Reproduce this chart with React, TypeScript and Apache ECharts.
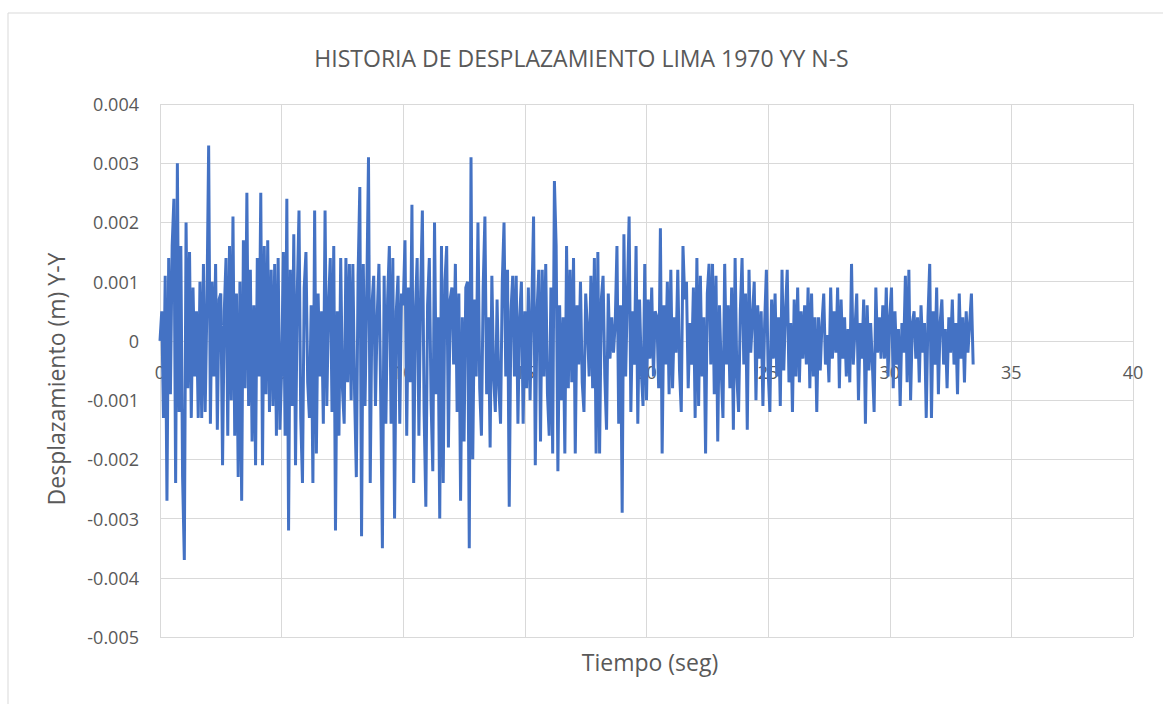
import React, { useEffect, useRef } from "react";
import * as echarts from "echarts";

// Sampling step of the record (14 samples per second), seconds
const dt = 1 / 14;

// Displacement Y-Y (m), read row by row, one row per second of record
const disp: number[] = [
  0, 0.0005, -0.0013, 0.0011, -0.0027, 0.0014, -0.0009, 0.0016, 0.0024, -0.0024, 0.0030, -0.0012, 0.0016, -0.0023,
  -0.0037, 0.0020, -0.0008, 0.0015, -0.0013, 0.0009, -0.0006, 0.0005, -0.0013, 0.0010, -0.0013, 0.0013, -0.0012, 0.0006,
  0.0033, -0.0014, 0.0010, -0.0006, 0.0013, -0.0015, 0.0007, 0.0008, -0.0021, 0.0005, 0.0014, -0.0016, 0.0016, -0.0010,
  0.0021, -0.0016, 0.0008, -0.0023, 0.0010, -0.0027, 0.0017, -0.0008, 0.0025, -0.0011, 0.0012, -0.0017, 0.0006, -0.0021,
  0.0014, -0.0006, 0.0025, -0.0021, 0.0016, -0.0009, 0.0017, -0.0012, 0.0012, -0.0011, 0.0013, -0.0016, 0.0014, -0.0015,
  -0.0005, 0.0015, -0.0016, 0.0024, -0.0032, 0.0012, -0.0011, 0.0018, -0.0021, 0.0008, 0.0022, -0.0013, -0.0024, 0.0009,
  0.0015, -0.0007, -0.0013, 0.0006, -0.0024, 0.0022, -0.0019, 0.0008, -0.0006, 0.0005, -0.0014, 0.0022, -0.0011, 0.0006,
  0.0014, -0.0012, 0.0016, -0.0032, 0.0005, -0.0016, 0.0014, -0.0008, -0.0014, 0.0014, -0.0007, 0.0013, -0.0010, 0.0013,
  -0.0009, -0.0023, 0.0011, 0.0026, -0.0033, 0.0013, -0.0011, 0.0008, 0.0031, -0.0024, 0.0006, 0.0011, -0.0011, 0.0004,
  0.0013, -0.0009, -0.0035, 0.0011, -0.0014, 0.0007, 0.0016, -0.0014, 0.0014, -0.0030, 0.0005, 0.0011, -0.0014, 0.0008,
  0.0006, 0.0017, -0.0016, 0.0009, -0.0007, 0.0023, -0.0024, 0.0005, 0.0014, -0.0016, 0.0008, 0.0022, -0.0012, -0.0028,
  0.0006, 0.0014, -0.0010, -0.0022, 0.0020, -0.0009, 0.0004, -0.0030, 0.0016, -0.0024, 0.0010, 0.0016, -0.0018, 0.0007,
  0.0009, -0.0004, 0.0013, -0.0012, 0.0008, -0.0027, 0.0004, -0.0017, 0.0009, 0.0010, -0.0035, 0.0031, -0.0020, 0.0007,
  -0.0006, 0.0020, -0.0008, -0.0016, 0.0009, 0.0021, -0.0009, 0.0004, -0.0018, 0.0011, -0.0006, -0.0012, 0.0007, -0.0008,
  -0.0014, 0.0010, 0.0020, -0.0006, 0.0012, -0.0028, 0.0005, 0.0011, -0.0006, 0.0011, -0.0014, 0.0004, 0.0010, -0.0014,
  0.0005, -0.0008, 0.0009, -0.0010, 0.0006, 0.0021, -0.0021, 0.0005, 0.0012, -0.0017, 0.0012, -0.0006, 0.0013, -0.0009,
  -0.0016, 0.0009, -0.0019, 0.0027, 0.0016, -0.0022, 0.0006, -0.0010, 0.0004, -0.0019, 0.0016, -0.0008, 0.0012, -0.0007,
  0.0014, -0.0019, 0.0006, -0.0004, 0.0010, -0.0007, -0.0012, 0.0008, 0.0002, -0.0006, 0.0011, -0.0008, 0.0014, -0.0019,
  0.0015, -0.0019, 0.0007, 0.0011, -0.0006, -0.0015, 0.0008, -0.0003, 0.0004, -0.0002, 0.0003, 0.0016, -0.0014, 0.0006,
  -0.0029, 0.0018, -0.0006, 0.0008, 0.0021, -0.0012, 0.0005, -0.0004, 0.0016, -0.0014, 0.0007, -0.0005, -0.0011, 0.0013,
  -0.0010, 0.0007, -0.0003, 0.0009, -0.0006, 0.0005, 0.0004, -0.0008, 0.0019, -0.0019, 0.0006, -0.0004, 0.0010, -0.0009,
  0.0012, -0.0008, 0.0004, -0.0002, 0.0012, -0.0005, -0.0012, 0.0016, 0.0007, 0.0010, -0.0008, 0.0003, -0.0004, 0.0009,
  -0.0013, 0.0014, -0.0011, 0.0011, -0.0006, 0.0004, -0.0019, 0.0008, 0.0013, -0.0004, 0.0013, -0.0009, 0.0011, -0.0017,
  0.0006, -0.0005, -0.0013, 0.0013, -0.0004, 0.0006, -0.0008, 0.0009, -0.0015, 0.0014, -0.0006, -0.0012, 0.0005, 0.0014,
  -0.0004, 0.0008, -0.0015, 0.0012, -0.0002, 0.0004, 0.0010, -0.0010, 0.0006, -0.0003, 0.0005, -0.0011, 0.0003, 0.0012,
  -0.0005, -0.0012, 0.0007, -0.0003, 0.0008, -0.0006, 0.0004, -0.0011, 0.0012, -0.0005, 0.0005, 0.0012, -0.0007, 0.0003,
  -0.0012, 0.0007, -0.0006, 0.0009, -0.0007, 0.0005, -0.0003, 0.0006, -0.0004, 0.0009, -0.0008, 0.0008, -0.0006, 0.0004,
  -0.0012, 0.0004, -0.0005, 0.0003, 0.0008, -0.0004, 0.0001, -0.0007, 0.0009, -0.0003, 0.0005, -0.0002, 0.0009, -0.0008,
  0.0007, -0.0003, 0.0004, -0.0006, 0.0002, -0.0007, 0.0013, -0.0004, 0.0002, 0.0008, -0.0010, 0.0003, -0.0003, 0.0007,
  -0.0014, 0.0006, -0.0005, 0.0003, -0.0004, -0.0012, 0.0009, -0.0002, 0.0004, -0.0003, 0.0006, -0.0003, 0.0009, -0.0006,
  0.0004, 0.0009, -0.0008, 0.0005, -0.0004, 0.0002, -0.0011, 0.0003, -0.0002, 0.0011, -0.0007, 0.0012, -0.0010, 0.0003,
  0.0005, -0.0003, 0.0004, -0.0007, 0.0006, -0.0002, 0.0003, -0.0013, 0.0004, 0.0013, -0.0013, 0.0005, -0.0004, 0.0009,
  -0.0009, 0.0003, 0.0007, -0.0004, 0.0002, -0.0008, 0.0004, -0.0002, 0.0007, -0.0004, 0.0003, -0.0009, 0.0008, -0.0003,
  0.0004, -0.0007, 0.0005, -0.0002, 0.0003, 0.0008, -0.0004,
];

const xTicks = [0, 5, 10, 15, 20, 25, 30, 35, 40];
const yTicks = [-0.005, -0.004, -0.003, -0.002, -0.001, 0, 0.001, 0.002, 0.003, 0.004];

const titleText = "HISTORIA DE DESPLAZAMIENTO LIMA 1970 YY N-S";
const xName = "Tiempo (seg)";
const yName = "Desplazamiento (m) Y-Y";

const FONT = "'Open Sans', sans-serif";
const TXT = "#595959";
const GRID = "#d9d9d9";

export default function App() {
  const ref = useRef<HTMLDivElement>(null);
  useEffect(() => {
    if (!ref.current) return;
    const chart = echarts.init(ref.current, undefined, { renderer: "svg" });
    const points = disp.map((v, i) => [i * dt, v]);
    chart.setOption({
      animation: false,
      backgroundColor: "#ffffff",
      textStyle: { fontFamily: FONT },
      title: {
        text: titleText,
        left: "center",
        top: 41,
        textStyle: { fontFamily: FONT, fontSize: 23, fontWeight: "normal", color: TXT },
      },
      graphic: [
        {
          type: "rect",
          shape: { x: 8, y: 13, width: 1300, height: 900 },
          style: { fill: "none", stroke: GRID, lineWidth: 1 },
          silent: true,
        },
        {
          type: "text",
          x: 650,
          y: 662,
          style: {
            text: xName,
            fontFamily: FONT,
            fontSize: 23,
            fill: TXT,
            align: "center",
            verticalAlign: "middle",
          },
          silent: true,
        },
        {
          type: "text",
          x: 56,
          y: 379,
          rotation: Math.PI / 2,
          style: {
            text: yName,
            fontFamily: FONT,
            fontSize: 23,
            fill: TXT,
            align: "center",
            verticalAlign: "middle",
          },
          silent: true,
        },
      ],
      grid: { left: 160, right: 30, top: 104, bottom: 67, containLabel: false, outerBoundsMode: "none" },
      xAxis: {
        type: "value",
        min: xTicks[0],
        max: xTicks[xTicks.length - 1],
        interval: 5,
        offset: -296,
        axisLine: { onZero: false, lineStyle: { color: GRID, width: 1 } },
        axisTick: { show: false },
        axisLabel: { color: TXT, fontSize: 18, margin: 22, fontFamily: FONT },
        splitLine: { show: true, lineStyle: { color: GRID, width: 1 } },
      },
      yAxis: {
        type: "value",
        min: yTicks[0],
        max: yTicks[yTicks.length - 1],
        interval: 0.001,
        axisLine: { show: false },
        axisTick: { show: false },
        axisLabel: {
          color: TXT,
          fontSize: 18,
          margin: 21,
          fontFamily: FONT,
          formatter: (v: number) => (Math.abs(v) < 1e-9 ? "0" : v.toFixed(3)),
        },
        splitLine: { show: true, lineStyle: { color: GRID, width: 1 } },
      },
      series: [
        {
          type: "line",
          data: points,
          showSymbol: false,
          symbol: "none",
          lineStyle: { color: "#4472c4", width: 3 },
          z: 3,
        },
      ],
    });
    return () => chart.dispose();
  }, []);
  return (
    <div
      ref={ref}
      style={{ position: "absolute", left: 0, top: 0, width: 1163, height: 704 }}
    />
  );
}
